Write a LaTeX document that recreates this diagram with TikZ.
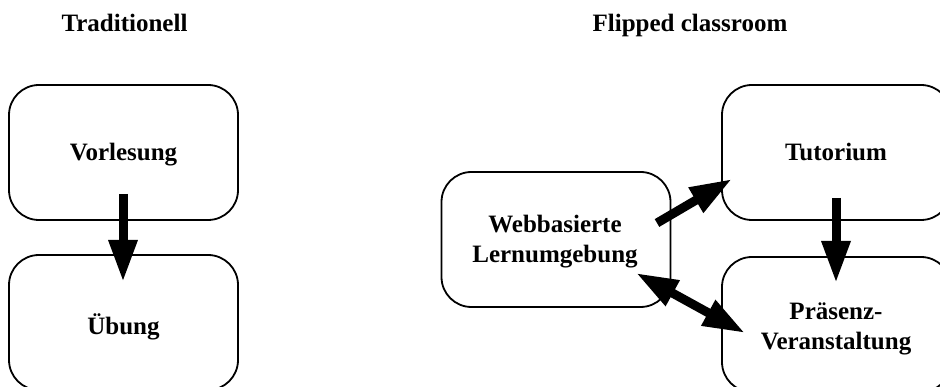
\documentclass[tikz,border=0pt]{standalone}
\usepackage{fontspec}
\setmainfont{Liberation Serif}
\usetikzlibrary{arrows.meta}
\begin{document}
\begin{tikzpicture}[x=1pt,y=-1pt,
  box/.style={draw, line width=1.8pt, rounded corners=30pt, minimum width=229pt, minimum height=135pt, inner sep=0pt},
  lbl/.style={align=center, font=\fontsize{25}{30}\selectfont\bfseries, inner sep=0pt},
  title/.style={font=\fontsize{25}{30}\selectfont\bfseries, inner sep=0pt, anchor=base},
  fat/.style={line width=9pt, -{Triangle[length=42pt,width=27pt]}},
  fatboth/.style={line width=9pt, {Triangle[length=42pt,width=27pt]}-{Triangle[length=42pt,width=27pt]}}]
\useasboundingbox (0,0) rectangle (940,387);
\clip (0,0) rectangle (940,387);

\node[title] (t1) at (124.5,32) {Traditionell};
\node[title] (t2) at (690,32) {Flipped classroom};

\node[box] (vor) at (123.5,152.5) {};
\node[box] (ueb) at (123.5,322.5) {};
\node[box] (web) at (556,239.5) {};
\node[box] (tut) at (836.5,152.5) {};
\node[box] (pra) at (836.5,324.5) {};

\node[lbl, anchor=base] (vorT) at (123.5,161) {Vorlesung};
\node[lbl, anchor=base] (uebT) at (123.5,335) {Übung};
\node[lbl] (webT) at (555,242) {Webbasierte\\Lernumgebung};
\node[lbl, anchor=base] (tutT) at (836,161) {Tutorium};
\node[lbl] (praT) at (836,328.5) {Präsenz-\\Veranstaltung};

\coordinate (a1s) at (123,194);
\coordinate (a1e) at (123,282);
\coordinate (a2s) at (836,198);
\coordinate (a2e) at (836,283);
\coordinate (a3s) at (657,223);
\coordinate (a3e) at (732,179);
\coordinate (a4s) at (636,273);
\coordinate (a4e) at (745,333);

\draw[fat] (a1s) -- (a1e);
\draw[fat] (a2s) -- (a2e);
\draw[fat] (a3s) -- (a3e);
\draw[fatboth] (a4s) -- (a4e);
\end{tikzpicture}
\end{document}
